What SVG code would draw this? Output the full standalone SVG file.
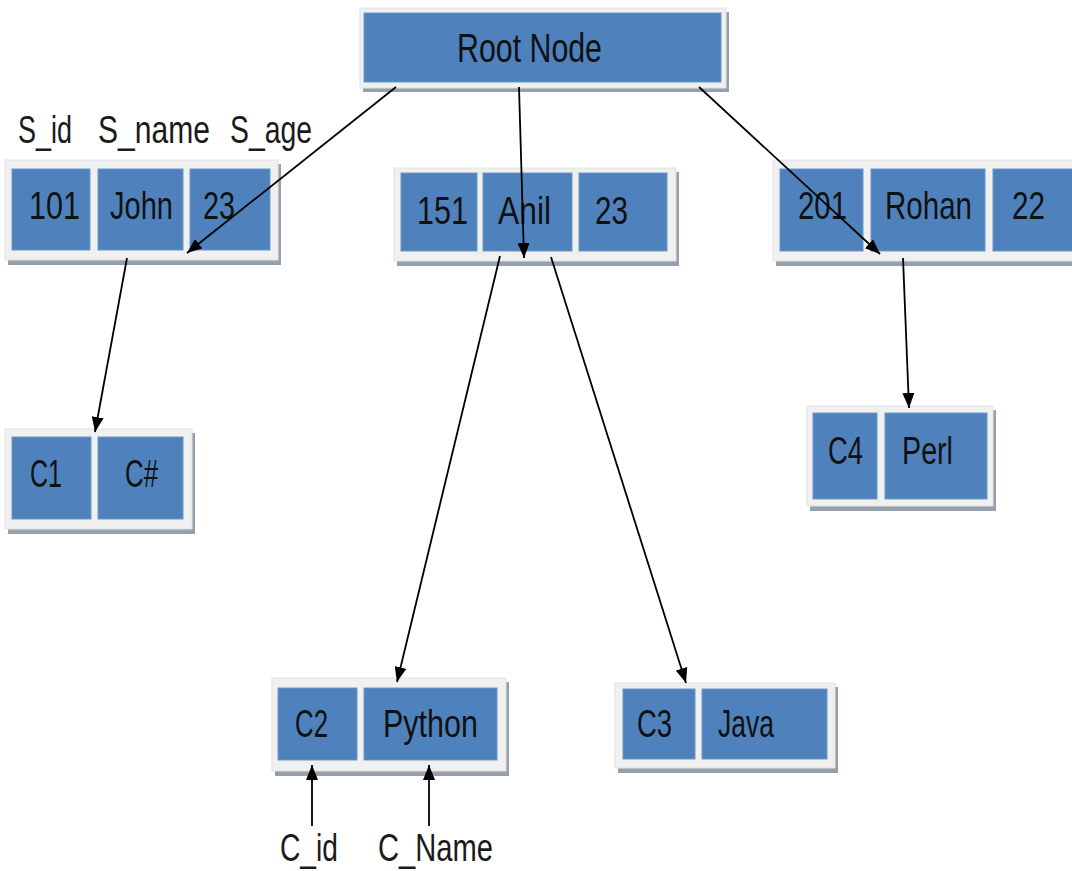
<svg xmlns="http://www.w3.org/2000/svg" width="1072" height="871" viewBox="0 0 1072 871">
<defs>
<marker id="ah" markerUnits="userSpaceOnUse" markerWidth="16" markerHeight="12" refX="15" refY="6" orient="auto"><path d="M0,0 L15,6 L0,12 z" fill="#000"/></marker>
<style>
.sh{fill:#95a0ac}
.fr{fill:#f0f0f0;stroke:#e2e2e2;stroke-width:1}
.c{fill:#4f81bd;stroke:#6d95c8;stroke-width:1}
.t{font-family:"Liberation Sans",Arial,sans-serif;font-size:30px;fill:#111}
.l{font-family:"Liberation Sans",Arial,sans-serif;font-size:30px;fill:#1a1a1a}
.e{stroke:#000;stroke-width:1.8;fill:none;marker-end:url(#ah)}
</style>
</defs>
<rect width="1072" height="871" fill="#fff"/>
<g id="root">
<rect class="sh" x="363" y="12" width="366" height="80"/>
<rect class="fr" x="360" y="8" width="366" height="80"/>
<rect class="c" x="364" y="13" width="357" height="69"/>
<text class="t" transform="translate(457,62) scale(1,1.35)" font-size="31" textLength="145" lengthAdjust="spacingAndGlyphs">Root Node</text>
</g>
<g id="labels-s">
<text class="l" transform="translate(18,143) scale(1,1.3)" textLength="54" lengthAdjust="spacingAndGlyphs">S_id</text>
<text class="l" transform="translate(98,143) scale(1,1.3)" textLength="112" lengthAdjust="spacingAndGlyphs">S_name</text>
<text class="l" transform="translate(230,143) scale(1,1.3)" textLength="82" lengthAdjust="spacingAndGlyphs">S_age</text>
</g>
<g id="s101">
<rect class="sh" x="8" y="164" width="273" height="101"/>
<rect class="fr" x="5" y="160" width="273" height="100"/>
<rect class="c" x="12" y="169" width="78" height="81"/>
<rect class="c" x="98" y="169" width="85" height="81"/>
<rect class="c" x="190" y="169" width="80" height="81"/>
<text class="t" transform="translate(29,219) scale(1,1.3)" textLength="51" lengthAdjust="spacingAndGlyphs">101</text>
<text class="t" transform="translate(110,219) scale(1,1.3)" textLength="63" lengthAdjust="spacingAndGlyphs">John</text>
<text class="t" transform="translate(203,219) scale(1,1.3)" textLength="32" lengthAdjust="spacingAndGlyphs">23</text>
</g>
<g id="s151">
<rect class="sh" x="397" y="172" width="282" height="94"/>
<rect class="fr" x="394" y="168" width="282" height="93"/>
<rect class="c" x="401" y="173" width="76" height="78"/>
<rect class="c" x="483" y="173" width="89" height="78"/>
<rect class="c" x="579" y="173" width="88" height="78"/>
<text class="t" transform="translate(417,224) scale(1,1.3)" textLength="51" lengthAdjust="spacingAndGlyphs">151</text>
<text class="t" transform="translate(498,224) scale(1,1.3)" textLength="53" lengthAdjust="spacingAndGlyphs">Anil</text>
<text class="t" transform="translate(595,224) scale(1,1.3)" textLength="33" lengthAdjust="spacingAndGlyphs">23</text>
</g>
<g id="s201">
<rect class="sh" x="776" y="164" width="300" height="102"/>
<rect class="fr" x="773" y="160" width="300" height="101"/>
<rect class="c" x="780" y="169" width="83" height="82"/>
<rect class="c" x="871" y="169" width="114" height="82"/>
<rect class="c" x="993" y="169" width="82" height="82"/>
<text class="t" transform="translate(798,219) scale(1,1.3)" textLength="49" lengthAdjust="spacingAndGlyphs">201</text>
<text class="t" transform="translate(885,219) scale(1,1.3)" textLength="87" lengthAdjust="spacingAndGlyphs">Rohan</text>
<text class="t" transform="translate(1012,219) scale(1,1.3)" textLength="33" lengthAdjust="spacingAndGlyphs">22</text>
</g>
<g id="c1">
<rect class="sh" x="8" y="433" width="187" height="101"/>
<rect class="fr" x="5" y="429" width="187" height="100"/>
<rect class="c" x="12" y="437" width="79" height="82"/>
<rect class="c" x="98" y="437" width="85" height="82"/>
<text class="t" transform="translate(30,487) scale(1,1.3)" textLength="32" lengthAdjust="spacingAndGlyphs">C1</text>
<text class="t" transform="translate(125,487) scale(1,1.3)" textLength="33" lengthAdjust="spacingAndGlyphs">C#</text>
</g>
<g id="c4">
<rect class="sh" x="810" y="410" width="186" height="101"/>
<rect class="fr" x="807" y="406" width="186" height="100"/>
<rect class="c" x="813" y="413" width="64" height="86"/>
<rect class="c" x="885" y="413" width="102" height="86"/>
<text class="t" transform="translate(828,464) scale(1,1.3)" textLength="35" lengthAdjust="spacingAndGlyphs">C4</text>
<text class="t" transform="translate(902,464) scale(1,1.3)" textLength="51" lengthAdjust="spacingAndGlyphs">Perl</text>
</g>
<g id="c2">
<rect class="sh" x="275" y="682" width="234" height="94"/>
<rect class="fr" x="272" y="678" width="234" height="93"/>
<rect class="c" x="278" y="688" width="79" height="72"/>
<rect class="c" x="364" y="688" width="133" height="72"/>
<text class="t" transform="translate(295,737) scale(1,1.3)" textLength="33" lengthAdjust="spacingAndGlyphs">C2</text>
<text class="t" transform="translate(383,737) scale(1,1.3)" textLength="95" lengthAdjust="spacingAndGlyphs">Python</text>
</g>
<g id="c3">
<rect class="sh" x="618" y="687" width="220" height="86"/>
<rect class="fr" x="615" y="683" width="220" height="85"/>
<rect class="c" x="623" y="689" width="72" height="70"/>
<rect class="c" x="702" y="689" width="125" height="70"/>
<text class="t" transform="translate(637,737) scale(1,1.3)" textLength="35" lengthAdjust="spacingAndGlyphs">C3</text>
<text class="t" transform="translate(718,737) scale(1,1.3)" textLength="56" lengthAdjust="spacingAndGlyphs">Java</text>
</g>
<g id="labels-c">
<text class="l" transform="translate(280,861) scale(1,1.3)" textLength="58" lengthAdjust="spacingAndGlyphs">C_id</text>
<text class="l" transform="translate(378,861) scale(1,1.3)" textLength="115" lengthAdjust="spacingAndGlyphs">C_Name</text>
</g>
<g id="connectors">
<line class="e" x1="396" y1="87" x2="187" y2="253"/>
<line class="e" x1="519" y1="87" x2="524" y2="258"/>
<line class="e" x1="699" y1="87" x2="880" y2="254"/>
<line class="e" x1="127" y1="258" x2="95" y2="432"/>
<line class="e" x1="500" y1="256" x2="397" y2="682"/>
<line class="e" x1="551" y1="257" x2="686" y2="683"/>
<line class="e" x1="903" y1="258" x2="909" y2="408"/>
<line class="e" x1="312" y1="826" x2="312" y2="765"/>
<line class="e" x1="429" y1="826" x2="429" y2="765"/>
</g>
</svg>
